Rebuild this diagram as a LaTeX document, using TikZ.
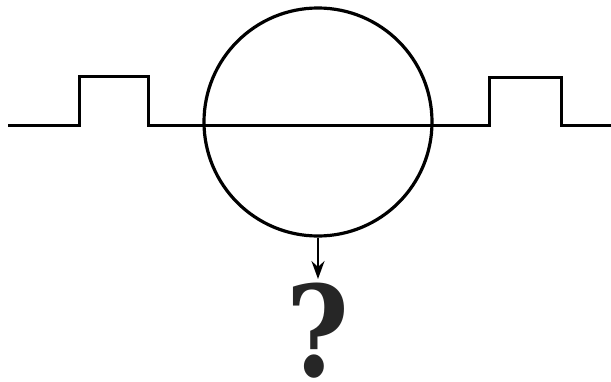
\documentclass[tikz,border=0pt]{standalone}
\usepackage{fontspec}
\newfontfamily\qfont{DejaVu Serif}
\usetikzlibrary{arrows.meta}
\begin{document}
\begin{tikzpicture}[x=1pt, y=-1pt, line width=3pt,
    signal/.style={black, line join=miter},
    ring/.style={circle, draw, line width=3.2pt, minimum size=228pt, inner sep=0pt}]
	\useasboundingbox (0,0) rectangle (611,381);
	% Rechteckimpulse auf der Leitung
	\draw[signal] (8,125) -- (79,125) -- (79,76) -- (148,76) -- (148,125)
		-- (489,125) -- (489,77) -- (561,77) -- (561,125) -- (611,125);
	
	% Kreis und Frage
	\node[ring] (ring) at (318,122) {};
	\coordinate (tip) at (318,279);
	\draw[-{Stealth[length=18pt, width=13pt, inset=6pt]}, line width=2.4pt] (ring.south) -- (tip);
	\node[anchor=base, black!85, xscale=0.85, inner sep=0pt] (qmark) at (318,376)
		{\fontsize{126}{126}\qfont\bfseries ?};
\end{tikzpicture}
\end{document}
